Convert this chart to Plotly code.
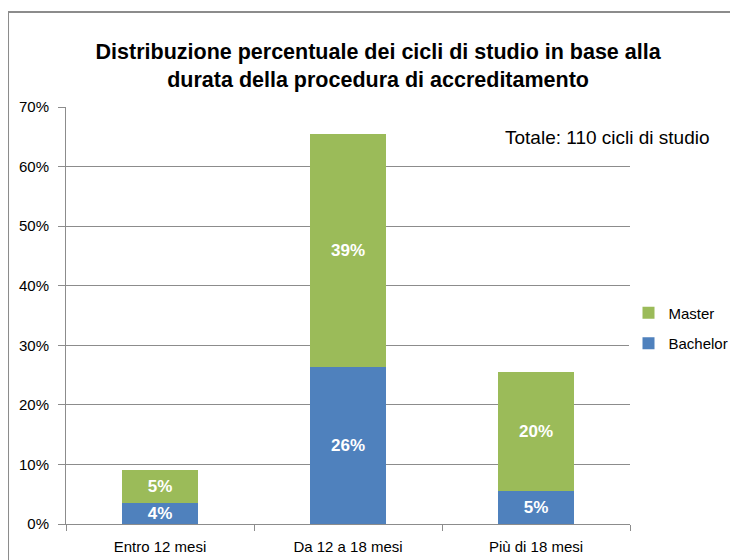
import plotly.graph_objects as go

categories = ["Entro 12 mesi", "Da 12 a 18 mesi", "Più di 18 mesi"]
bachelor = [3.6, 26.4, 5.5]
master = [5.5, 39.1, 20.0]
bachelor_labels = ["4%", "26%", "5%"]
master_labels = ["5%", "39%", "20%"]

font_family = "Liberation Sans, Arial, sans-serif"

fig = go.Figure()
fig.add_trace(go.Bar(
    x=categories, y=bachelor, name="Bachelor", legendgroup="b", legendrank=2,
    marker=dict(color="#4F81BD", line=dict(width=0)),
    text=bachelor_labels, textposition="inside", insidetextanchor="middle",
    constraintext="none",
    textfont=dict(color="white", size=17, family=font_family),
    texttemplate="<b>%{text}</b>",
))
fig.add_trace(go.Bar(
    x=categories, y=master, name="Master", legendgroup="m", legendrank=1,
    marker=dict(color="#9BBB59", line=dict(width=0)),
    text=master_labels, textposition="inside", insidetextanchor="middle",
    constraintext="none",
    textfont=dict(color="white", size=17, family=font_family),
    texttemplate="<b>%{text}</b>",
))

# page body adds ~8px offset, so the figure is a bit smaller than the window
fig.update_layout(
    barmode="stack",
    bargap=0.6,
    width=730, height=552,
    margin=dict(l=58, r=108, t=99, b=36, autoexpand=False),
    paper_bgcolor="white", plot_bgcolor="white",
    font=dict(family=font_family, size=15, color="black"),
    title=dict(
        text="<b>Distribuzione percentuale dei cicli di studio in base alla<br>durata della procedura di accreditamento</b>",
        x=0.507, xanchor="center", y=0.9076, yanchor="middle",
        font=dict(size=21.5, color="black"),
    ),
    legend=dict(
        xref="container", x=0.85, y=0.47, xanchor="left", yanchor="middle",
        traceorder="grouped", font=dict(size=15),
        tracegroupgap=8, itemwidth=30,
    ),
)

fig.update_yaxes(
    range=[0, 70], dtick=10, ticksuffix="%",
    showgrid=True, gridcolor="#8c8c8c", gridwidth=1,
    showline=True, linecolor="#8c8c8c", linewidth=1,
    ticks="outside", ticklen=7, tickcolor="#8c8c8c",
    tickfont=dict(size=15), zeroline=False, ticklabelstandoff=6,
)
fig.update_xaxes(
    showline=True, linecolor="#8c8c8c", linewidth=1,
    ticks="outside", ticklen=6, tickcolor="#8c8c8c", tickson="boundaries",
    tickfont=dict(size=15), ticklabelstandoff=9,
)

fig.add_annotation(
    text="Totale: 110 cicli di studio", xref="paper", yref="paper",
    x=1.145, y=0.928, xanchor="right", yanchor="middle", showarrow=False,
    font=dict(size=19, color="black"),
)

fig.add_shape(
    type="rect", xref="paper", yref="paper",
    x0=-0.1028, y0=-0.2, x1=1.3, y1=1.228,
    line=dict(color="#8c8c8c", width=2),
)

fig.write_html("out.html")
